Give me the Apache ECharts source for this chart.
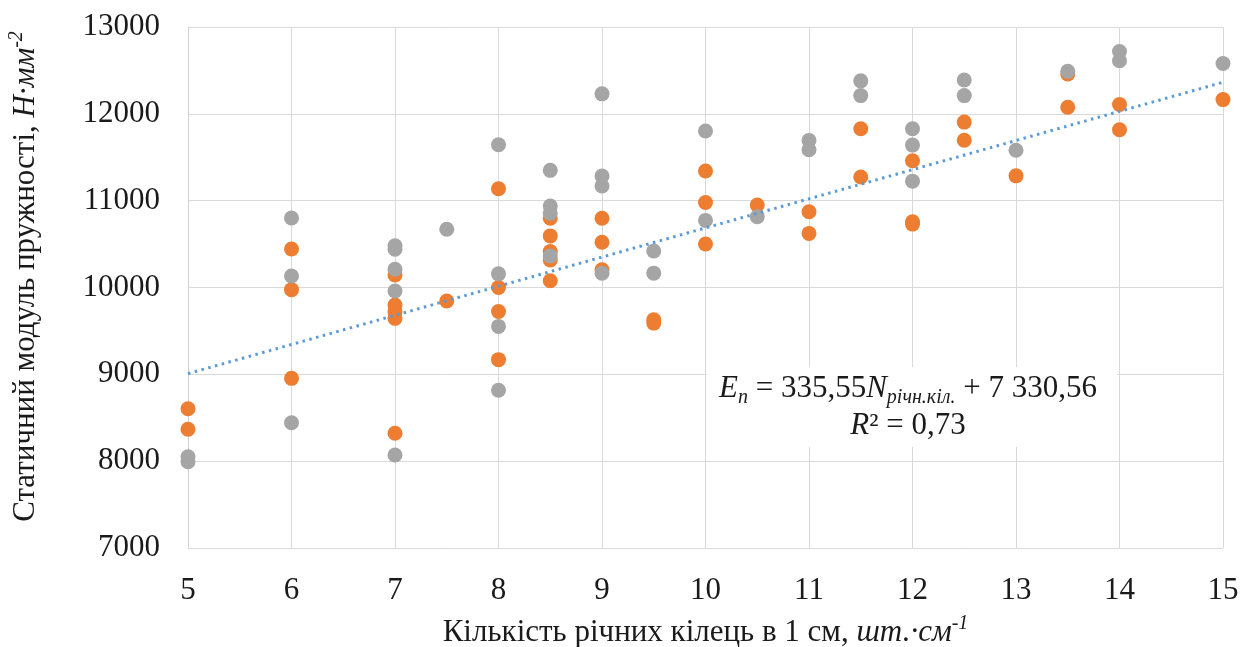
<!DOCTYPE html>
<html>
<head>
<meta charset="utf-8">
<script src="https://cdn.jsdelivr.net/npm/echarts@6/dist/echarts.min.js"></script>
<style>
html,body{margin:0;padding:0;background:#fff;}
#chart{width:1242px;height:647px;}
</style>
</head>
<body>
<div id="chart"></div>
<script>
// Orange series: [ring count per cm, static modulus]
const orangePoints = [
  [5, 8604], [5, 8367],
  [6, 10443], [6, 9975], [6, 8954],
  [7, 10144], [7, 9798], [7, 9721], [7, 9645], [7, 8321],
  [7.5, 9844],
  [8, 11138], [8, 10000], [8, 9724], [8, 9169],
  [8.5, 10797], [8.5, 10594], [8.5, 10414], [8.5, 10318], [8.5, 10077],
  [9, 10797], [9, 10521], [9, 10203],
  [9.5, 9628], [9.5, 9590],
  [10, 11342], [10, 10979], [10, 10501],
  [10.5, 10950],
  [11, 10872], [11, 10623],
  [11.5, 11828], [11.5, 11273],
  [12, 11460], [12, 10757], [12, 10730],
  [12.5, 11905], [12.5, 11695],
  [13, 11286],
  [13.5, 12458], [13.5, 12076],
  [14, 12107], [14, 11817],
  [15, 12164]
];
// Gray series
const grayPoints = [
  [5, 8051], [5, 7994],
  [6, 10800], [6, 10132], [6, 8443],
  [7, 10480], [7, 10440], [7, 10210], [7, 9960], [7, 8071],
  [7.5, 10670],
  [8, 11644], [8, 10157], [8, 9552], [8, 8816],
  [8.5, 11349], [8.5, 10939], [8.5, 10854], [8.5, 10364],
  [9, 12230], [9, 11284], [9, 11169], [9, 10165],
  [9.5, 10421], [9.5, 10165],
  [10, 11803], [10, 10773],
  [10.5, 10815],
  [11, 11694], [11, 11587],
  [11.5, 12380], [11.5, 12210],
  [12, 11828], [12, 11640], [12, 11225],
  [12.5, 12389], [12.5, 12210],
  [13, 11580],
  [13.5, 13004], [13.5, 12489],
  [14, 12718], [14, 12611],
  [15, 12580]
];
// Linear trendline shown on the chart: E = 335,55 N + 7 330,56
const trendSlope = 335.55;
const trendIntercept = 7330.56;
const trendRange = [5, 15];
const trendPoints = trendRange.map(x => [x, trendSlope * x + trendIntercept]);

const xAxisTitle = 'Кількість річних кілець в 1 см, ';
const xAxisUnit = 'шт.·см';
const xAxisUnitPow = '-1';
const yAxisTitle = 'Статичний модуль пружності, ';
const yAxisUnit = 'Н·мм';
const yAxisUnitPow = '-2';

const FONT = '"Liberation Serif", "Times New Roman", "DejaVu Serif", serif';
const TXT = '#1a1a1a';

const chart = echarts.init(document.getElementById('chart'), null, {renderer: 'canvas'});
chart.setOption({
  animation: false,
  backgroundColor: '#ffffff',
  grid: {left: 188, right: 19, top: 27, bottom: 99, containLabel: false, outerBoundsMode: 'none'},
  xAxis: {
    type: 'value', min: 5, max: 15, interval: 1,
    axisLine: {show: false},
    axisTick: {show: false},
    axisLabel: {fontFamily: FONT, fontSize: 31, color: TXT, margin: 27, formatter: v => String(v)},
    splitLine: {show: true, lineStyle: {color: '#d9d9d9', width: 1}},
    name: '{n|' + xAxisTitle + '}{i|' + xAxisUnit + '}{s|' + xAxisUnitPow + '}',
    nameLocation: 'middle',
    nameGap: 66,
    nameTextStyle: {
      fontFamily: FONT, fontSize: 31, color: TXT,
      rich: {
        n: {fontFamily: FONT, fontSize: 31, color: TXT},
        i: {fontFamily: FONT, fontSize: 31, color: TXT, fontStyle: 'italic'},
        s: {fontFamily: FONT, fontSize: 20, color: TXT, fontStyle: 'italic', padding: [0, 0, 18, 0]}
      }
    }
  },
  yAxis: {
    type: 'value', min: 7000, max: 13000, interval: 1000,
    axisLine: {show: true, lineStyle: {color: '#d0d0d0', width: 1}},
    axisTick: {show: false},
    axisLabel: {fontFamily: FONT, fontSize: 31, color: TXT, margin: 28, formatter: v => String(v)},
    splitLine: {show: true, lineStyle: {color: '#d9d9d9', width: 1}},
    name: '{n|' + yAxisTitle + '}{i|' + yAxisUnit + '}{s|' + yAxisUnitPow + '}',
    nameLocation: 'middle',
    nameRotate: 90,
    nameGap: 143,
    nameTextStyle: {
      fontFamily: FONT, fontSize: 31, color: TXT,
      padding: [0, 0, 0, 22],
      rich: {
        n: {fontFamily: FONT, fontSize: 31, color: TXT},
        i: {fontFamily: FONT, fontSize: 31, color: TXT, fontStyle: 'italic'},
        s: {fontFamily: FONT, fontSize: 20, color: TXT, fontStyle: 'italic', padding: [0, 0, 18, 0]}
      }
    }
  },
  series: [
    {
      type: 'scatter', name: 'orange', data: orangePoints,
      symbol: 'circle', symbolSize: 15, z: 2,
      itemStyle: {color: '#ED7D31', opacity: 1}
    },
    {
      type: 'scatter', name: 'gray', data: grayPoints,
      symbol: 'circle', symbolSize: 15, z: 3,
      itemStyle: {color: '#A5A5A5', opacity: 1}
    },
    {
      type: 'line', name: 'trend', data: trendPoints,
      symbol: 'none', z: 4,
      lineStyle: {color: '#5B9BD5', width: 3, type: [2.5, 4.5], cap: 'butt'}
    }
  ],
  graphic: [
    {
      type: 'rect', z: 100,
      shape: {x: 707, y: 367, width: 410, height: 80},
      style: {fill: '#ffffff'}
    },
    {
      type: 'text', z: 101,
      x: 908, y: 407,
      style: {
        text: '{i|E}{sb|n}{n| = 335,55}{i|N}{sb|річн.кіл.}{n| + 7 330,56}\n{i|R}{n|² = 0,73}',
        align: 'center', verticalAlign: 'middle',
        fontFamily: FONT, fontSize: 31, fill: TXT,
        rich: {
          n: {fontFamily: FONT, fontSize: 31, color: TXT, lineHeight: 37},
          i: {fontFamily: FONT, fontSize: 31, color: TXT, fontStyle: 'italic', lineHeight: 37},
          sb: {fontFamily: FONT, fontSize: 20, color: TXT, fontStyle: 'italic', padding: [18, 0, 0, 0]}
        }
      }
    }
  ]
});
</script>
</body>
</html>
